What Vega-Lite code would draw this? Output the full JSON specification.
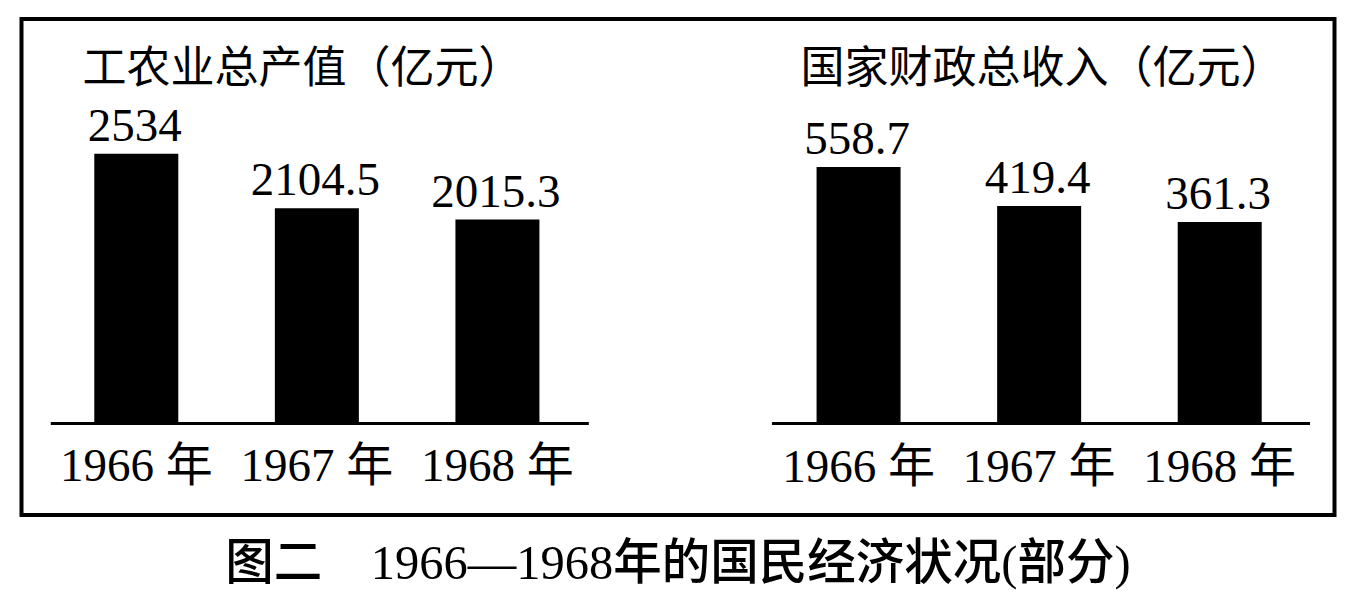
{
  "$schema": "https://vega.github.io/schema/vega-lite/v6.json",
  "width": 1313,
  "height": 496,
  "autosize": {"type": "none"},
  "padding": {"left": 21.5, "top": 19, "right": 19.5, "bottom": 92},
  "background": "white",
  "config": {
    "view": {"stroke": "black", "strokeWidth": 4},
    "font": "Liberation Serif, Noto Sans CJK SC"
  },
  "title": {
    "text": "图二　1966—1968年的国民经济状况(部分)",
    "orient": "bottom",
    "anchor": "middle",
    "frame": "group",
    "baseline": "alphabetic",
    "offset": 64,
    "font": "Liberation Serif, Noto Sans CJK SC",
    "fontSize": 48.5,
    "fontWeight": 500,
    "color": "black"
  },
  "datasets": {
    "agri": [
      {"slot": "工农业总产值 1966", "year": "1966 年", "value": 2534},
      {"slot": "工农业总产值 1967", "year": "1967 年", "value": 2104.5},
      {"slot": "工农业总产值 1968", "year": "1968 年", "value": 2015.3}
    ],
    "fiscal": [
      {"slot": "国家财政总收入 1966", "year": "1966 年", "value": 558.7},
      {"slot": "国家财政总收入 1967", "year": "1967 年", "value": 419.4},
      {"slot": "国家财政总收入 1968", "year": "1968 年", "value": 361.3}
    ]
  },
  "layer": [
    {
      "data": {"name": "agri"},
      "layer": [
        {
          "mark": {"type": "bar", "color": "black"},
          "encoding": {
            "x": {"field": "slot", "type": "nominal", "axis": null,
              "scale": {"domain": ["工农业总产值 1966", "工农业总产值 1967", "工农业总产值 1968", " ", "国家财政总收入 1966", "国家财政总收入 1967", "国家财政总收入 1968"], "paddingInner": 0.5348, "paddingOuter": 0.4031, "align": 0.5}},
            "y": {"field": "value", "type": "quantitative", "axis": null,
              "scale": {"domain": [-317.5, 3598.8], "zero": false, "nice": false}},
            "y2": {"datum": 405}
          }
        },
        {
          "mark": {"type": "text", "font": "Liberation Serif, Noto Sans CJK SC", "fontSize": 47, "baseline": "alphabetic", "align": "center", "dy": -13, "dx": -1.5, "color": "black"},
          "encoding": {
            "x": {"field": "slot", "type": "nominal"},
            "y": {"field": "value", "type": "quantitative"},
            "text": {"field": "value", "type": "nominal"}
          }
        },
        {
          "mark": {"type": "text", "font": "Liberation Serif, Noto Sans CJK SC", "fontSize": 47, "baseline": "alphabetic", "align": "center", "dy": 58, "color": "black"},
          "encoding": {
            "x": {"field": "slot", "type": "nominal"},
            "y": {"datum": 405, "type": "quantitative"},
            "text": {"field": "year", "type": "nominal"}
          }
        },
        {
          "data": {"values": [{}]},
          "mark": {"type": "rule", "color": "black", "strokeWidth": 3},
          "encoding": {
            "x": {"datum": "工农业总产值 1966", "type": "nominal", "bandPosition": -0.518},
            "x2": {"datum": "工农业总产值 1968", "bandPosition": 1.588},
            "y": {"datum": 405, "type": "quantitative"}
          }
        },
        {
          "data": {"values": [{"title": "工农业总产值（亿元）"}]},
          "mark": {"type": "text", "font": "Liberation Serif, Noto Sans CJK SC", "fontSize": 44, "baseline": "middle", "align": "left", "dy": -353.5, "color": "black"},
          "encoding": {
            "x": {"datum": "工农业总产值 1966", "type": "nominal", "bandPosition": -0.14},
            "y": {"datum": 405, "type": "quantitative"},
            "text": {"field": "title", "type": "nominal"}
          }
        }
      ]
    },
    {
      "data": {"name": "fiscal"},
      "layer": [
        {
          "mark": {"type": "bar", "color": "black"},
          "encoding": {
            "x": {"field": "slot", "type": "nominal", "axis": null},
            "y": {"field": "value", "type": "quantitative", "axis": null,
              "scale": {"domain": [-690.4, 1090.4], "zero": false, "nice": false}},
            "y2": {"datum": -361.9}
          }
        },
        {
          "mark": {"type": "text", "font": "Liberation Serif, Noto Sans CJK SC", "fontSize": 47, "baseline": "alphabetic", "align": "center", "dy": -13, "dx": -1.5, "color": "black"},
          "encoding": {
            "x": {"field": "slot", "type": "nominal"},
            "y": {"field": "value", "type": "quantitative"},
            "text": {"field": "value", "type": "nominal"}
          }
        },
        {
          "mark": {"type": "text", "font": "Liberation Serif, Noto Sans CJK SC", "fontSize": 47, "baseline": "alphabetic", "align": "center", "dy": 58, "color": "black"},
          "encoding": {
            "x": {"field": "slot", "type": "nominal"},
            "y": {"datum": -361.9, "type": "quantitative"},
            "text": {"field": "year", "type": "nominal"}
          }
        },
        {
          "data": {"values": [{}]},
          "mark": {"type": "rule", "color": "black", "strokeWidth": 3},
          "encoding": {
            "x": {"datum": "国家财政总收入 1966", "type": "nominal", "bandPosition": -0.531},
            "x2": {"datum": "国家财政总收入 1968", "bandPosition": 1.575},
            "y": {"datum": -361.9, "type": "quantitative"}
          }
        },
        {
          "data": {"values": [{"title": "国家财政总收入（亿元）"}]},
          "mark": {"type": "text", "font": "Liberation Serif, Noto Sans CJK SC", "fontSize": 44, "baseline": "middle", "align": "left", "dy": -353.5, "color": "black"},
          "encoding": {
            "x": {"datum": "国家财政总收入 1966", "type": "nominal", "bandPosition": -0.19},
            "y": {"datum": -361.9, "type": "quantitative"},
            "text": {"field": "title", "type": "nominal"}
          }
        }
      ]
    }
  ],
  "resolve": {"scale": {"y": "independent"}}
}
